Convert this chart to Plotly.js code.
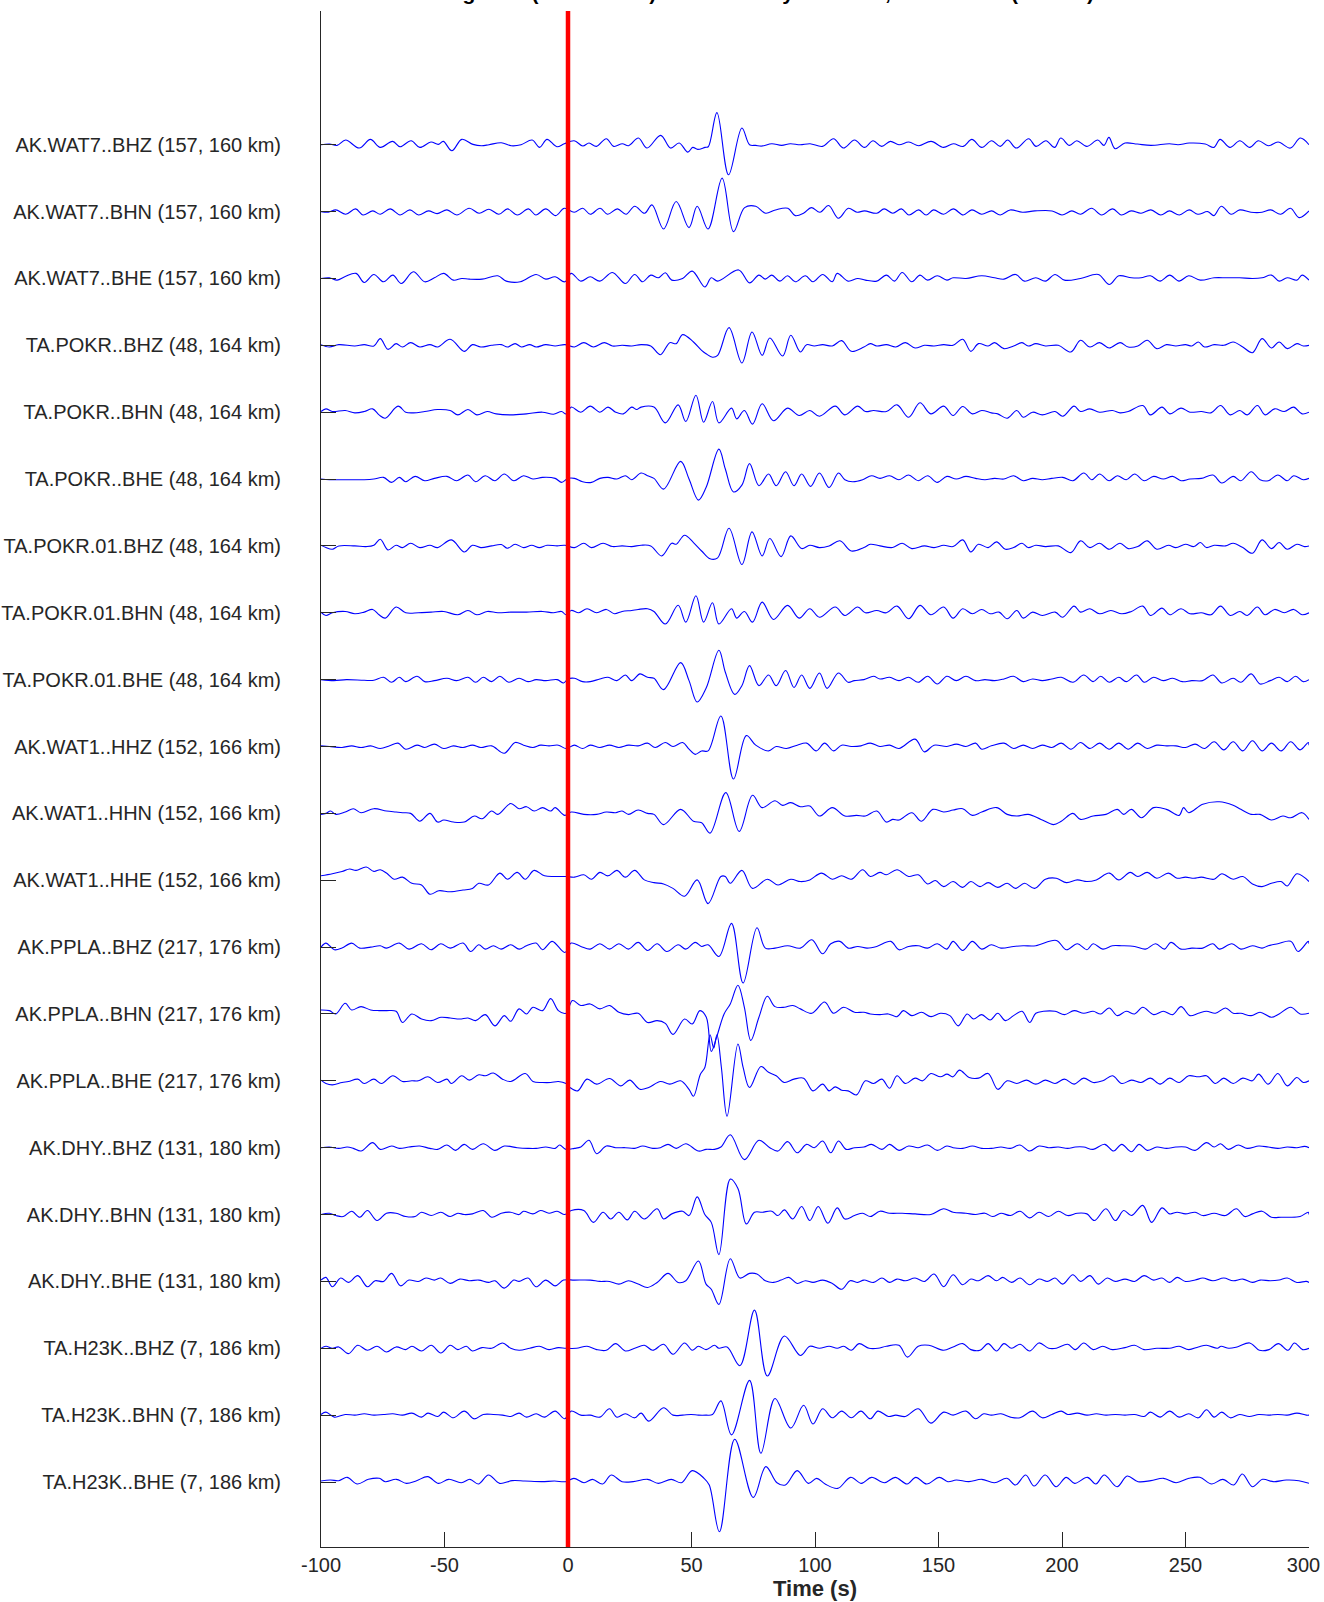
<!DOCTYPE html>
<html><head><meta charset="utf-8">
<script src="https://cdn.plot.ly/plotly-3.0.1.min.js"></script>
<style>html,body{margin:0;padding:0;background:#fff}</style>
</head><body>
<div id="chart" style="width:1324px;height:1602px"></div>
<script>
// ---- station metadata ----
const stationNames = ["AK.WAT7..BHZ","AK.WAT7..BHN","AK.WAT7..BHE","TA.POKR..BHZ","TA.POKR..BHN","TA.POKR..BHE","TA.POKR.01.BHZ","TA.POKR.01.BHN","TA.POKR.01.BHE","AK.WAT1..HHZ","AK.WAT1..HHN","AK.WAT1..HHE","AK.PPLA..BHZ","AK.PPLA..BHN","AK.PPLA..BHE","AK.DHY..BHZ","AK.DHY..BHN","AK.DHY..BHE","TA.H23K..BHZ","TA.H23K..BHN","TA.H23K..BHE"];
const azimuthDeg = [157,157,157,48,48,48,48,48,48,152,152,152,217,217,217,131,131,131,7,7,7];
const distanceKm = [160,160,160,164,164,164,164,164,164,166,166,166,176,176,176,180,180,180,186,186,186];
const originTime = 0;
const xTickVals = [-100,-50,0,50,100,150,200,250,300];
const xTickText = ["-100","-50","0","50","100","150","200","250","300\u00a0\u00a0"];
const titleText = "Seismograms (normalized) are sorted by distance, local event (Mw 4.9)";

// ---- waveforms: pairs of [time (s), amplitude] ----
const w01 = [-100,0,-96.5,0.1,-93.5,-0.1,-90,0.7,-84.5,-0.5,-80,0.8,-76,-0.4,-71,0.5,-68,-0.3,-63.5,0.6,-60,-0.4,-55.5,0.4,-52.5,0.05,-50.5,0.5,-47,-0.9,-43,0.8,-38.5,0.05,-35,-0.15,-32,0,-27,0.3,-23,-0.15,-19,0,-14.5,0.7,-11.5,-0.4,-8.5,0.8,-4.5,-0.3,-1.5,0.15,2.5,0.6,6,-0.2,8.5,0.25,11.5,-0.25,15.5,0.9,18.5,-0.25,22,0.15,24.5,-0.15,28.5,1.0,32,-0.5,37.5,1.4,41.5,-0.5,45,0.25,48.5,-1.1,50.5,-0.4,52.5,-0.7,55.5,-0.4,56.8,-0.3,60.3,4.8,65,-4.5,70.4,2.5,73.5,0,76,-0.1,78.5,-0.2,82.5,0.15,86.5,-0.1,90,0.15,94,0,98,0.15,103,-0.25,107.5,0.9,111.5,-0.5,116,0.7,120,-0.4,123.5,0.6,127,-0.25,130.5,0.5,134,0,138,0.4,142,-0.15,147,0.5,152,-0.4,156,0.15,160,-0.25,163.5,0.8,167.5,-0.4,171.5,0.6,175,-0.25,178,0.7,181.5,-0.5,186.5,0.9,189.5,-0.25,193.5,0.6,197,-0.4,199.5,1.0,203,-0.1,206,0.6,210,-0.25,214.5,0.7,217,-0.1,219,1.1,221.5,-0.6,225.5,0.25,230.5,0.1,236,-0.1,243.5,0.15,247,0,251.5,0.25,258,0.1,261.5,-0.4,264,0.8,268,-0.4,272,0.6,276,-0.4,279.5,0.6,283.5,-0.15,287.5,0.4,292.5,-0.5,296.5,1.0,300,0];
const w02 = [-100,0,-97,-0.1,-94,0.25,-90,-0.4,-86,0.4,-83,-0.5,-79,0.1,-76,-0.4,-72,0.4,-68,-0.5,-64,0.25,-60.5,-0.5,-56.5,0.1,-53,-0.3,-49,0.25,-45,-0.5,-40,0.5,-36,-0.25,-32,0.35,-28,-0.4,-24.5,0.4,-20.5,-0.5,-16,0.4,-13,-0.5,-9,0.4,-5,-0.6,-1.5,0.5,2.5,-0.1,6,0.5,9,-0.4,13,0.5,16,-0.4,20,0.4,23.5,-0.4,27,0.8,31,-0.25,34,1.0,38.7,-2.6,43.8,1.5,49,-2.4,52.3,0.8,56.7,-2.6,62.4,5.0,67,-3.0,71.5,0.6,76,0.8,80,-0.25,84,0.25,89,0.5,92,-0.6,95.5,-0.2,98.5,0.6,102,-0.1,105.5,0.9,109.5,-1.0,113.5,0.5,117,-0.1,120,0.1,125,-0.25,128,0.4,131.5,-0.25,135,0.4,138,-0.5,142,0.25,145,-0.5,148,0.25,152,-0.4,156,0.4,160,-0.5,163.5,0.25,167.5,-0.4,171.5,0.1,175,-0.5,179,0.25,184,-0.1,189,0.1,196,0.1,200,-0.5,204,0.1,207.5,-0.4,212,0.5,216,-0.5,220.5,0.4,224,-0.5,228,0.1,232,-0.25,236,0.25,240,-0.5,243.5,0.1,247.5,-0.5,251.5,0.25,255,-0.4,259,0,261.5,-0.6,264.5,0.8,268.5,-0.4,272,0.25,276.5,-0.1,281,-0.1,284.5,0.25,288.5,-0.4,292.5,0.5,296,-0.9,300,0.1];
const w03 = [-100,0,-96.6,0.1,-93.5,-0.25,-90.2,0.3,-85.8,0.76,-82.5,-0.6,-78.6,0.6,-74.7,-0.5,-70.9,0.5,-67.5,-0.76,-62.6,1.0,-58,-0.5,-54.1,0.1,-50.3,0.76,-46.4,-0.25,-43,0,-40,-0.1,-34.8,-0.1,-28.4,0.4,-25,-0.4,-19.3,-0.5,-12.9,0.6,-9,-0.1,-5.2,0.25,-1.3,-0.5,1.3,0.76,5.2,-0.4,9,0.25,12.9,-0.4,18,0.9,23.2,-0.76,27,0.6,30.2,-0.5,33.5,0.5,36.6,0.1,39.4,0.86,42,-0.25,46.4,0,50.3,1.1,55.4,-1.27,58,0.1,60.6,-0.4,69.1,1.27,73.5,-0.66,77.3,0.5,79.9,-0.1,82.5,0.5,85.8,-0.4,88.9,0.4,92,-0.5,96.1,0.4,99.2,-0.5,103.1,0.6,107,-0.5,109,0.76,113.4,-0.4,117.3,0,120.4,-0.25,125,-0.4,128.9,0.5,132.2,-0.4,135.3,0.9,139.2,-0.5,142.5,0.5,145.6,-0.25,149.5,0.4,153.4,-0.25,155.9,0.1,161.1,0,167.5,0.4,172.7,0.1,176.5,-0.1,181.2,0.6,184.8,-0.4,189.4,0.1,193.3,-0.4,197.2,0.6,201,-0.25,207.5,0,214.7,0.6,219.1,-0.9,223,0.4,228.1,0.1,232,0.1,235.8,0.4,239.7,-0.4,243.6,0.5,247.4,-0.4,251.3,0.4,256,-0.25,261.6,0.1,266.8,0.1,271.9,0.1,277.1,0,281,0.1,284.8,0.5,287.9,-0.4,291.2,0.1,295.1,-0.25,297.2,0.5,300,-0.25];
const w04 = [-100,0.1,-96.6,-0.25,-92.8,0.1,-86.3,-0.1,-82.5,0.1,-78.6,-0.1,-76,1.0,-72.9,-0.6,-69.6,0.25,-67,-0.25,-63.7,0.4,-60,-0.25,-55.9,0.1,-52.8,-0.25,-47.7,0.9,-42,-0.9,-38.7,0.1,-35.3,-0.25,-30.9,0,-27,0.1,-24.5,-0.25,-21.4,0.25,-18.8,-0.25,-15.5,0.1,-12.9,-0.25,-9,0.1,-5.2,-0.1,-1.3,0.1,2.6,-0.25,6.4,0.4,10.3,-0.25,14.7,0.4,18,-0.1,21.9,0,25.8,-0.1,29.6,0.1,33.5,-0.1,37.4,-1.4,41.2,0.4,43.8,0.25,46.4,1.6,50.8,0.5,54.1,-0.76,55.9,-1.27,58.5,-1.78,60.6,-1.5,65.2,2.64,70.4,-2.64,74.5,2.0,78.6,-1.5,81.7,1.1,86.9,-1.6,90.2,1.5,94.1,-1.0,96.6,0.1,99.7,-0.1,103.1,0.1,107,-0.1,110.8,0.7,114.7,-0.9,119.8,-0.25,122.4,0.25,125,-0.1,128.9,0.1,132.7,-0.25,136.6,0.4,140.5,-0.4,144.3,0,148.2,-0.1,152.1,0.1,155.9,0,159.8,0.9,163.1,-0.9,166.2,0.25,170.1,-0.1,172.7,0.4,176.5,-0.5,180.4,-0.1,183.8,0.4,186.3,-0.1,189.4,0.25,193.3,-0.1,198.5,0,203.6,-1.0,207.5,0.76,211.3,-0.25,215.2,0.4,219.1,-0.4,223.5,0.4,226.8,-0.25,230.7,-0.1,234.5,0.76,238.4,-0.5,242.3,0.1,246.1,-0.1,250,0.1,252.6,-0.1,255.2,0.5,257.7,-0.25,261.6,0.1,265.5,0,269.3,0.5,273.2,-0.25,277.1,-1.1,281,1.0,284.8,-0.4,287.9,0.5,291.2,-0.5,295.1,0.25,297.7,-0.1,300,0];
const w05 = [-100,0.1,-98,0.5,-95.4,0.1,-90.2,0.25,-86.3,-0.1,-82.5,0.1,-79.1,0.5,-76.5,-0.4,-74,-0.9,-68.8,0.9,-65.7,0,-62.6,-0.1,-58,0.1,-52.8,0.4,-47.7,0.25,-44.6,-0.4,-40.5,0.4,-36.9,-0.4,-32.7,0.1,-29.1,-0.25,-23.2,-0.4,-16.8,-0.25,-10.3,0,-5.9,-0.3,-2.6,0.1,-0.8,-0.25,1.3,0.76,5.2,0,9,0.9,12.9,0,16.2,0.76,19.3,0,22.4,-0.25,25.8,0.76,27.8,0.4,29.6,0.76,34.8,0.76,39.4,-1.6,44.6,1.1,47.7,-1.4,51.8,2.54,54.9,-1.5,58.5,1.6,61.1,-1.6,66.2,0.6,68.3,-1.0,71.4,0.25,74.7,-1.78,78.6,1.27,83.2,-1.27,88.9,0.6,93.6,-0.5,97.9,0.25,101.8,-0.6,108.2,0.9,112.1,-0.4,117.3,0.9,120.4,0.1,123.7,0.25,128.9,0.1,133.2,1.1,137.9,-0.76,142.5,1.4,146.9,-0.25,152.1,0.9,155.9,-0.5,159.8,0.86,163.7,-0.25,167.5,0.25,171.4,-0.1,174,-0.25,177.8,-0.9,181.7,0.25,184.3,-0.76,188.1,0,192,-0.4,197.2,0.1,200.3,-0.6,204.9,0.9,207.5,0.1,211.3,0.5,215.2,0,220.4,0.25,223.5,-0.1,226.8,0.1,232.7,1.0,235.8,-0.4,240.5,0.76,243.6,-0.25,248.2,0.6,251.8,0,256.4,0.1,260.3,-0.1,264.2,1.0,268.1,-0.4,272,0.25,275,-0.4,279.1,1.0,282.2,-0.4,286.1,0.5,290,0.1,293.8,0.76,297.2,-0.25,300,0];
const w06 = [-100,0,-96.6,-0.1,-91.5,-0.1,-86.3,-0.1,-82.5,-0.1,-78.6,0,-74.7,0.25,-71.4,-0.5,-68.3,0.25,-65.7,-0.4,-61.9,0.4,-58,-0.25,-54.1,0.1,-49,0.4,-45.1,-0.25,-40.5,0.6,-37.4,-0.4,-33.5,0.5,-29.6,-0.25,-25.8,0.76,-21.9,-0.25,-18,0.5,-14.2,0,-10.3,0.25,-5.2,0.1,-2.6,-0.5,0,0.1,2.6,0.1,5.9,-0.4,9.5,-0.5,12.9,0.1,16.2,0.25,19.8,0,23.2,0.5,25.8,-0.1,29.6,0.9,32.2,0.5,34.8,0.1,38.7,-1.5,45.6,2.64,49,0,52.8,-3.15,55.9,-1.27,61.1,4.47,63.7,1.5,67,-1.93,70.4,-0.9,73.5,2.3,77.3,-1.0,81.2,0.76,84.3,-1.0,88.1,1.1,91.5,-1.0,94.6,0.76,98.2,-1.1,101.8,0.9,105.7,-1.27,109.5,0.9,112.1,-0.1,115.2,-0.4,119.3,-0.1,122.9,0.5,126.3,0.1,130.2,0.5,134,-0.1,137.9,0.6,141.8,-0.25,145.6,0.5,149.5,-0.5,153.4,0.4,157.2,0,161.1,0.4,165,0.1,168.8,-0.1,172.7,0.1,176.5,0,180.4,0.5,184.3,-0.25,188.1,0.1,192,-0.1,195.9,0.1,200.3,0.25,204.4,-0.25,208.8,0.9,212.1,-0.1,215.2,0.76,219.1,-0.25,222.4,0.5,226,-0.1,229.4,0.76,233.3,-0.25,237.1,0.4,241,0,244.8,0.4,248.2,-0.25,251.8,0,256.4,0.1,261.1,0.6,264.7,-0.6,269.3,0.4,272.4,-0.25,276.6,1.1,280.2,-0.1,283.5,-0.25,287.4,0.6,291.2,-0.25,293.8,0.5,297.7,-0.1,300,0.1];
const w07 = [-100,0.1,-98,-0.25,-95.4,-0.5,-92.8,0,-86.3,0,-81.7,-0.1,-78.6,0.1,-76,1.0,-72.9,-0.6,-69.6,0.1,-67,-0.25,-63.7,0.4,-60,-0.25,-55.9,0.1,-52.8,-0.25,-47.2,0.9,-42,-0.9,-38.7,0.1,-35.3,-0.25,-30.9,0,-27,0.2,-24.5,-0.35,-21.4,0.25,-18,-0.25,-14.7,0.1,-11.6,-0.25,-8.5,0.1,-4.4,0,-1.3,0.1,2.6,-0.25,6.4,0.4,9.5,-0.25,14.2,0.4,18,-0.1,21.9,0,25.8,-0.1,29.6,0.1,33.5,0,37.9,-1.5,42,0.4,43.8,0.25,47.2,1.6,50.8,0.5,54.1,-0.76,57.5,-1.93,60.6,-1.78,65.2,2.64,70.4,-2.79,74.5,2.1,78.6,-1.5,81.7,1.1,86.3,-1.6,90.2,1.5,94.6,-0.4,97.9,0.1,101.8,-0.25,105.7,0,110.1,0.76,114.7,-0.76,119.8,-0.25,122.4,0.25,126.3,0,131.4,-0.25,135.3,0.4,139.2,-0.4,144.3,0,148.2,-0.25,152.1,0.1,155.9,-0.1,159.8,0.9,163.1,-0.9,166.2,0.25,170.1,-0.25,173.5,0.6,177.1,-0.5,180.4,-0.25,183.8,0.4,186.3,-0.25,189.4,0.1,193.3,-0.1,198.5,0,203.6,-1.0,207.5,0.76,211.3,-0.25,215.2,0.4,219.1,-0.5,223.5,0.4,226.8,-0.4,230.7,-0.1,234.5,0.76,238.4,-0.5,243.1,0.1,246.1,-0.25,250,0.25,253.4,-0.1,256,0.5,258.5,-0.25,261.6,0.1,266.2,0,269.3,0.4,273.2,-0.25,277.1,-1.1,281,0.9,284.8,-0.4,287.9,0.5,291.2,-0.5,295.1,0.25,298.2,-0.1,300,0];
const w08 = [-100,0.1,-98,-0.4,-95.4,0,-90.2,0.2,-86.3,-0.15,-82.5,0.1,-79.1,0.5,-76.5,-0.3,-74,-0.8,-69.6,0.86,-65.7,0,-60.6,0,-55.4,0.1,-50.3,0.2,-44.6,-0.3,-40.5,0.35,-36.9,-0.3,-32.7,0.2,-28.4,0,-23.2,0.1,-16.8,0.1,-10.3,0.2,-5.9,0,-2.6,0.2,-0.8,-0.3,1.3,0.35,4.4,0,7.7,0.6,11.6,0,15.5,0.5,18.8,-0.15,21.9,0.2,25.8,0.35,28.4,0.5,32.2,0.6,34.8,0.2,39.4,-1.68,44.6,1.12,47.7,-1.4,51.8,2.54,54.9,-1.4,58.5,1.5,61.1,-1.68,66.2,0.6,68.3,-0.8,71.4,0.2,74.7,-1.4,78.6,1.6,83.2,-1.0,88.9,1.1,93.6,-0.8,97.9,0.6,101.8,-0.66,108.2,0.86,112.1,-0.4,117.3,0.86,120.4,0,125,0.35,128.9,0,133.2,1.0,137.9,-0.9,142.5,1.1,146.9,-0.3,152.1,0.86,155.9,-0.8,159.8,0.6,163.7,-0.15,167.5,0.5,170.9,-0.15,174.5,0.1,177.8,-0.9,181.7,0.35,184.3,-0.8,188.1,0.1,192,-0.4,197.2,0.1,200.3,-0.66,204.9,1.0,207.5,0.1,211.3,0.6,215.2,-0.15,219.8,0.35,224.2,-0.15,228.1,0.2,232.7,1.0,235.8,-0.4,240.5,0.7,243.6,-0.3,248.2,0.6,251.8,-0.15,256.4,0,260.3,-0.3,264.2,1.0,268.1,-0.4,272,0.2,275,-0.4,279.1,0.86,282.2,-0.3,286.1,0.5,290,0,293.8,0.5,297.2,-0.3,300,0];
const w09 = [-100,0,-94.8,-0.15,-89.7,0,-82.5,-0.1,-78.6,-0.1,-74.7,0.35,-71.4,-0.4,-68.3,0.35,-65.7,-0.3,-61.1,0.5,-58,-0.3,-54.1,-0.15,-49,0.2,-45.1,-0.15,-40.5,0.35,-37.4,-0.4,-34.3,0.35,-30.9,-0.3,-27.6,0.5,-24,-0.4,-19.8,0.2,-16.2,-0.3,-12.9,0,-9,-0.15,-4.4,0,-1.8,-0.5,0,0.1,2.6,0.2,5.9,-0.3,9,-0.3,12.9,0.1,16.2,0.35,19.8,-0.15,23.2,0.7,25.8,-0.15,29.1,0.86,32.2,0.35,34.8,0.2,38.7,-1.5,45.6,2.54,49,-0.15,52.3,-3.35,55.9,-1.3,61.1,4.4,63.7,1.1,67.5,-2.2,70.4,-0.9,73.5,2.1,77.3,-0.9,81.2,0.7,84.3,-0.9,88.1,1.37,91.5,-1.17,94.6,0.7,97.9,-1.3,101.8,1.0,104.9,-1.3,109.5,1.0,113.4,-0.4,115.9,-0.15,119.8,0,123.7,0.5,126.3,0.1,130.2,0.35,134,-0.15,137.9,0.35,141.8,-0.4,145.6,0.5,149.5,-0.66,153.4,0.5,157.2,-0.15,161.1,0.5,165,-0.15,168.8,0,172.7,-0.15,176.5,0.1,180.4,0.5,184.3,-0.3,188.1,0.1,192,-0.15,195.9,0.1,199.7,0.35,204.4,-0.4,208.8,0.7,212.6,-0.3,215.7,0.5,219.1,-0.4,223,0.35,226,-0.3,230.2,0.7,233.3,-0.4,237.1,0.35,241,-0.15,244.8,0.2,248.7,-0.3,252.6,-0.15,256.9,-0.15,261.1,0.7,264.7,-0.5,269.3,0.2,272.4,-0.4,276.6,0.86,280.2,-0.66,284.3,-0.15,287.9,0.35,291.2,-0.3,294.6,0.5,297.7,-0.3,300,0];
const w10 = [-100,0.1,-96.6,0,-91.5,-0.15,-87.6,0.1,-83.8,-0.15,-79.9,0.1,-76,-0.3,-72.2,0.1,-68.8,0.5,-65.7,-0.4,-61.1,0.2,-58,-0.15,-54.1,0.35,-50.3,-0.3,-46.4,0.1,-42.5,-0.15,-38.7,0.2,-35.3,-0.15,-30.9,0.1,-25.8,-1.0,-21.4,0.6,-18,0.2,-14.2,-0.15,-11.1,0.2,-7.7,0.1,-3.9,0.2,-0.8,-0.3,2.6,0.2,5.9,-0.3,9,0.2,12.9,-0.15,16.8,0.2,20.6,-0.15,24.5,0.2,28.4,0.1,32.2,0.5,35.3,-0.15,39.4,0.6,42.5,0,46.4,0.6,49,-0.4,51.5,-1.17,54.1,-0.66,56.7,-0.66,61.9,4.57,67,-4.87,72.2,1.63,76,0.2,81.2,-0.66,84.3,0,88.4,-0.3,92.8,0.2,96.6,0.5,100.5,-0.66,103.9,0.5,107.5,-0.66,110.8,0.2,114.7,0,118.6,0.1,122.4,0.5,126.3,0,130.2,0.2,134,-0.3,140.5,1.1,144.3,-0.8,148.2,0.2,153.4,0,157.2,0.35,161.1,0,165,0.5,167.5,-0.4,171.4,0.1,176.5,0.5,180.4,-0.3,184.3,0.2,188.1,-0.3,192,0.2,195.9,-0.15,199.7,0.5,203.6,-0.4,207.5,0.6,211.3,-0.3,215.2,0.5,219.1,-0.4,223,0.5,226.8,-0.4,230.7,0.5,234.5,-0.3,238.4,0.2,242.3,0.1,246.1,0.1,250,-0.15,253.9,0.35,257.7,-0.3,261.6,0.7,265.5,-0.5,269.3,0.7,273.2,-0.66,277.1,0.86,281,-0.66,284.8,0.5,288.7,-0.66,292.6,0.7,296.4,-0.5,299.7,0.6,300,0.2];
const w11 = [-100,-0.15,-98,0,-96.1,0.35,-94,-0.15,-90.2,0.2,-86.9,0.7,-83.8,0.1,-78.6,0.7,-73.5,0.35,-69.6,0.2,-67,0.1,-63.7,0,-60,-1.17,-55.9,0,-52.8,-1.3,-50.3,-1.0,-46.4,-1.3,-42,-1.3,-37.9,-0.4,-34.8,-0.8,-30.9,0.35,-28.4,-0.15,-23.2,1.47,-19.8,0.7,-16.8,1.0,-13.7,0.35,-10.3,0.86,-7,0.35,-5.2,0.86,-1.3,-0.3,1.3,0.2,6.4,-0.15,11.6,-0.15,15.5,0.2,19.3,0.1,21.9,0.35,24.5,-0.15,28.4,0.5,32.2,0,34.8,-0.15,38.7,-1.68,45.6,0.6,50.8,-1.17,54.1,-1.4,57.5,-2.95,63.9,3.1,69.3,-2.7,74.7,2.7,78.6,0.86,83.8,1.88,86.9,1.2,90.2,1.6,94.1,1.0,97.9,1.1,101.8,-0.4,107,0.86,112.1,-0.4,116.8,-0.3,120.4,-0.4,125,0.35,128.9,-1.3,131.4,-0.9,134,-1.0,139.2,0.1,143.1,-1.17,147.7,0.6,152.1,0.2,155.9,0.5,159.8,0.7,163.7,-0.3,167.5,0.2,173.5,0.86,177.8,-0.15,181.7,-0.4,186.3,-0.15,191.5,-0.9,196.6,-1.68,199.7,-1.17,204.4,0,207.5,-0.9,212.6,-0.4,217.8,-0.15,222.4,0.6,225,-0.15,228.1,0.6,232.2,-0.66,237.1,0.86,242.3,0.6,247.4,-0.3,249.2,0.86,251.3,0.1,257,1.37,263.7,1.73,269.3,1.2,272.4,0.6,276.6,-0.15,280.2,-0.15,284.8,-1.0,289.4,-0.4,292.6,-0.66,297.2,0.1,300,-0.9];
const w12 = [-100,0.66,-95.4,0.96,-91.5,1.3,-88.4,1.68,-85.8,1.47,-81.7,1.98,-78.6,1.32,-76,1.57,-73.5,1.07,-70.4,0.15,-67,0.46,-63.2,-0.46,-59.3,-0.71,-55.9,-2.1,-52.3,-1.57,-47.7,-1.73,-42.5,-1.47,-38.7,-1.22,-36.1,-0.46,-32.2,-0.71,-27.6,1.07,-24.5,0.15,-20.6,1.17,-17.3,0.15,-13.7,1.47,-9.5,0.66,-5.2,0.56,-0.8,0.56,2.6,0.46,6.4,0.81,9.5,0.15,12.9,1.17,16.2,0.66,19.8,1.47,23.2,0.46,27,1.47,30.9,0.05,34.8,-0.36,38.7,-0.56,42.5,-1.22,47.2,-2.39,52.3,0.05,56.7,-3.5,61.9,0.56,63.7,0.56,65.7,-0.46,70.4,1.47,74.7,-1.22,80.7,0.15,85,-0.71,90.2,0.15,94.1,-0.2,97.9,0.05,102.6,1.07,107,0.15,110.8,0.66,114.7,0.15,119.3,1.57,122.4,0.56,126.3,1.17,128.9,0.81,133.2,1.57,137.9,0.56,141.8,0.81,145.6,-0.56,148.7,-0.05,152.1,-0.96,155.9,-0.2,159.8,-1.07,163.1,-0.2,166.8,-0.96,170.1,-0.36,174,-1.07,177.8,-0.46,181.2,-1.22,184.8,-0.46,188.9,-1.22,193.3,0.15,197.7,0.3,201.8,-0.36,206.2,0.05,210.1,-0.2,213.9,0.05,219.1,1.07,223,0.05,227.6,1.17,230.7,0.56,234.5,1.17,238.4,0.3,243.1,1.07,246.6,0.3,250,0.46,253.4,0.3,256.4,0.46,261.6,0.15,264.7,0.96,269.3,0.15,273.2,0.56,277.1,-0.56,281,-0.96,284.8,-0.46,288.7,-0.2,291.2,-0.86,295.1,0.96,300,-0.2];
const w13 = [-100,0,-98,0.6,-94.6,-0.4,-91.5,-0.15,-87.6,0.6,-84.3,-0.15,-79.9,0,-76,0.2,-73.5,-0.15,-68.3,0.6,-64.4,-0.3,-59.3,0.5,-55.4,-0.4,-51.5,0.5,-47.7,-0.15,-42.5,0.6,-39.4,-0.66,-36.1,0.35,-33.5,-0.3,-30.2,0.2,-27.1,-0.3,-23.2,0.35,-19.8,-0.3,-16.8,0.2,-12.9,0.6,-10.3,-0.4,-6.4,0.86,-1.3,-0.8,1.3,0.6,5.2,0.1,9,-0.3,12.9,0.5,16.8,-0.3,20.6,0.5,24.5,-0.3,28.4,0.7,32.2,-0.5,36.1,0.5,40,-0.66,44.6,0.35,47.7,-0.3,51.5,0.7,54.1,0.1,56.7,0.35,61.1,-1.4,66.2,3.55,70.9,-5.38,76.5,2.9,79.9,-0.15,83.8,-0.15,88.9,0.2,94.1,-0.15,98.7,1.1,103.1,-1.0,106.4,0.5,110.1,0.86,113.4,-0.15,117.3,0.1,121.1,-0.15,125,0.1,130.7,0.86,134,-0.4,137.9,0.1,141.8,0.2,145.6,-0.15,149.5,0.5,153.4,-0.3,155.9,0.86,159.8,-0.5,163.7,0.86,167.5,-0.3,171.4,0.35,175.3,-0.15,180.4,0.1,184.3,0.2,189.4,0.2,197.7,1.0,201.8,-0.4,206.2,0.5,210.1,-0.4,212.6,0.5,216.5,-0.3,220.4,0.2,224.2,0.2,229.4,0.1,233.8,-0.3,237.9,0.5,241.5,-0.3,244.1,0.7,248.2,-0.3,252.6,-0.15,257,-0.15,261.1,0.5,263.7,-0.3,268.8,0.5,272.4,-0.3,277.1,0.2,281,-0.15,283.5,0.2,287.4,0.5,292.6,0.86,295.6,-0.66,299.7,0.86,300,0.5];
const w14 = [-100,0.6,-96.6,0.5,-94,0,-90.2,1.6,-87.6,0.6,-83.8,1.1,-79.9,0.6,-76.5,0.5,-73.5,0.5,-69.6,0.4,-67,-1.27,-63.2,0,-59.3,-0.76,-55.4,-1.0,-51.5,-0.5,-47.7,-0.6,-43.8,-0.76,-40.5,-0.6,-37.4,-1.0,-33.5,-0.1,-29.6,-1.78,-25.8,-0.25,-23.2,-1.1,-19.8,0.76,-16.8,0,-14.2,1.0,-10.3,0.5,-7,2.3,-3.9,0.5,-0.8,0.1,1.8,2.0,5.2,1.27,9,1.5,12.9,0.76,16.8,1.27,20.6,0.25,24.5,-0.1,28.4,0.1,32.2,-1.27,36.1,-1.0,39.4,-1.4,42.5,-3.05,47.2,-0.76,50.3,-1.5,53.4,0.5,56,-0.5,58,-5.6,60.1,-3.55,63.2,0,65.7,1.5,68.8,4.3,71.4,1.0,74,-3.96,77.3,-0.5,80.7,2.64,83.8,1.1,87.6,1.0,91,1.27,94.1,0.76,98.7,0.1,103.9,1.78,107.5,0.1,111.6,1.0,116,0.25,119.8,0.25,122.4,0,126.3,-0.1,129.7,0,133.2,-0.4,135.8,0.5,139.2,-0.25,143.1,0.25,146.9,-0.4,150.8,0.1,154.6,-0.25,158,-1.78,161.6,0,164.2,-0.76,167.5,-0.1,170.9,-0.9,174,0.1,177.1,-1.0,180.4,-0.25,183.8,0.4,186.9,-1.27,189.4,0.1,192.5,0.4,197.2,0.4,201,-0.1,204.9,0.5,208.8,0.1,212.6,0.4,215.7,0,219.1,0.9,222.4,-0.25,226,0.4,229.4,0,232.7,1.0,237.1,-0.1,241,0.4,244.8,-0.1,248.2,1.1,251.8,-0.25,255.2,0.1,258.5,0.4,262.1,0.1,266.2,0.9,269.3,0.1,272.4,0.1,276.6,-0.25,280.2,0.25,284.8,-0.5,287.9,0,292.6,1.0,296.4,0,300,0.1];
const w15 = [-100,0.1,-98,-0.4,-95.4,-0.6,-91.5,-0.25,-88.9,-0.1,-85.1,0.25,-82.5,-0.4,-78.6,0.25,-75.5,-0.4,-70.9,0.76,-67,-0.1,-63.2,0,-60.6,0,-56.7,0.6,-52.8,-0.25,-49,0.25,-47.2,-0.4,-43,0.76,-40,0.1,-36.1,0.9,-33.5,0.76,-30.2,1.17,-26.5,0.25,-23.2,-0.1,-17.3,1.1,-14.2,-0.1,-10.3,-0.25,-7,-0.25,-3.9,-0.1,-0.8,-0.4,0.8,-1.0,3.9,-1.5,7.7,0.25,11.6,-0.5,16.8,0.35,21.4,-0.76,25,0.1,29.1,-1.27,32.7,-1.0,37.4,-0.1,41.2,-0.5,45.6,0,49,-1.27,50.8,-2.3,53.6,1.0,55.4,2.0,57.5,6.9,59,4.9,60.3,6.9,62.1,2.0,64.4,-5.3,68.8,5.5,70.9,2.0,73.5,-1.0,78.1,2.14,81.2,1.27,84.3,0.76,87.6,-0.25,91.5,0.25,95.4,0.4,99.2,-1.5,103.1,-0.5,105.7,-1.5,108.2,-0.9,110.8,-1.4,113.4,-1.5,116.8,-2.1,120.4,0,123.7,-0.4,127.1,0.25,130.2,-1.1,133.2,0.76,136.6,-0.4,140.5,0.4,143.6,0,146.9,1.1,150.8,0.6,153.4,1.0,155.9,0.6,158.5,1.6,162.4,0.5,166.2,0.4,170.1,1.1,174,-1.27,177.8,0,181.7,-0.4,185.6,0.1,189.4,-0.5,193.3,0.1,197.2,-0.4,201,0.25,204.9,-0.5,208.8,0.4,212.6,-0.25,216.5,0,220.4,0.76,224.2,-0.4,228.1,0.1,232,-0.25,235.8,0.4,239.7,-0.5,243.6,0.4,247.4,-0.25,251.3,0.76,255.2,0.6,258.5,0.76,262.1,-0.4,265.5,0.4,269.3,-0.4,273.2,0.4,277.1,0,279.6,1.0,283.5,-0.5,287.4,1.1,291.2,-0.76,295.1,0.5,297.7,-0.25,300,0];
const w16 = [-100,0,-96.6,0.1,-92.8,-0.1,-89.4,0.1,-86.9,-0.1,-83.8,-0.5,-79.1,0.76,-76,-0.25,-71.4,0.25,-68.3,-0.1,-64.4,0.1,-60,0.25,-55.9,-0.1,-52.8,-0.25,-49,0.4,-45.6,-0.4,-42,0.5,-38.7,-0.25,-34.3,0.6,-29.6,-0.4,-25.8,0.25,-20.6,0,-16.2,-0.1,-12.9,-0.1,-9,0.1,-5.2,-0.1,-3.4,0.4,-0.8,-0.25,2.6,-0.1,5.2,0.1,8.5,1.1,11.6,-0.9,15.5,0.25,19.3,0,23.2,0,27,-0.1,30.2,0.25,34.3,-0.1,37.4,0,40.5,0.5,43.8,-0.1,47.7,0.6,52.8,-0.5,55.9,-0.25,59.3,-0.25,61.9,0.1,65.7,1.93,71.4,-1.78,77.3,1.1,81.7,0,85,-0.5,88.9,0.9,92.8,-0.76,96.6,0.5,99.7,0,103.1,1.0,106.4,-0.76,109.5,1.0,112.6,-0.25,116,0,119.8,0.1,122.9,0.5,127.1,-0.25,130.2,0.5,134,-0.4,137.9,0.25,141.8,0,145.6,0.4,149.5,-0.4,153.4,0.25,155.9,0,159.8,-0.1,163.7,0.25,167.5,-0.1,171.4,-0.1,175.3,0.1,179.1,-0.1,183,0.4,186.9,-0.5,190.7,0.25,194.6,0,198.5,0.1,202.3,-0.1,205.4,0.1,208.8,0.1,212.6,-0.25,217.3,0.5,220.9,-0.5,224.2,0.5,228.1,-0.6,231.2,0.5,234.5,-0.4,238.4,0.1,242.3,-0.1,246.1,0.1,250,0.1,253.9,-0.4,258.5,0.76,261.6,0.1,264.2,0.6,267.3,-0.25,271.4,0.4,275,-0.1,279.7,0.25,283.5,0.1,287.4,-0.1,291.2,0.1,295.1,0,298.2,0.2,300,0];
const w17 = [-100,0,-96.6,0.2,-94,-0.15,-91,-0.3,-87.6,0.5,-84.3,-0.4,-81.2,0.6,-77.3,-0.9,-73.5,0.2,-69.6,0.2,-65.7,-0.3,-61.9,-0.3,-59.3,0.35,-55.4,-0.15,-51.5,0.35,-47.7,-0.3,-44.6,0.2,-42,0,-38.7,0.1,-34.3,0.6,-30.9,-0.4,-27,0.2,-23.2,0.35,-19.8,0,-18,0.5,-14.2,0.1,-11.1,0.6,-7.7,0.2,-4.4,0.5,-1.3,0,1.3,0.6,6.4,0.6,10.3,-1.17,14.2,0.35,17.3,-0.66,20.6,0.35,24,-0.8,27,0.5,30.9,-0.66,36.1,0.86,38.7,-0.66,42,0.1,46.4,0.5,49,-0.15,52.3,2.64,55.4,0,58,-1.17,61.1,-6.0,65.7,5.3,68.8,3.9,72.2,-1.4,75.5,0.35,78.6,0.35,82.5,0.5,85,-0.15,87.6,0.7,91,-0.66,94.6,1.2,97.9,-0.9,101.3,1.2,105.2,-1.3,109,1.0,112.1,-0.66,116,-0.15,119.3,0.2,122.4,-0.3,126.3,0.5,130.2,0.2,135.3,0.2,140.5,0.1,146.9,0,152.1,0.86,155.9,0.35,161.1,0.2,165,0,168.8,0.2,171.9,-0.3,175.3,0.2,179.1,-0.15,183,0.5,186.9,-0.5,190.7,0.35,194.6,-0.3,198.5,0.5,202.3,-0.15,206.2,0.2,210.1,0.1,213.1,-0.9,217.8,0.86,221.6,-0.9,225,0.6,228.1,-0.15,232.7,1.37,236.3,-1.17,240.5,1.0,243.6,0.1,246.6,0.35,250,0.1,253.9,0.35,257,-0.15,261.6,0.2,266.2,-0.15,270.6,0.86,274,-0.3,277.1,0.1,281,0.5,284.8,-0.4,288.7,-0.4,291.2,-0.4,296.4,-0.3,299.7,0.35,300,0];
const w18 = [-100,0.2,-98,0.6,-95.4,-0.8,-92,0.5,-88.9,-0.15,-85.1,0.86,-81.2,-0.8,-78.1,0.1,-74.7,0,-71.4,1.2,-67.8,-0.66,-64.4,0.2,-60.6,0,-57.5,0.5,-54.1,0.2,-51.5,0.5,-47.7,-0.3,-43.8,0.35,-40,0.1,-36.1,0.2,-32.2,-0.15,-29.6,0.1,-25.8,-1.0,-21.9,0.2,-19.8,0,-16.2,0.5,-12.9,-0.8,-9,0.2,-5.2,-0.66,-1.8,0.2,2.6,0.2,9,0.2,12.9,0,16.8,0,20.6,-0.4,24.5,0.1,28.4,-0.4,32.2,-0.9,36.1,-0.15,40.5,1.2,44.6,-0.15,47.7,0.1,52.8,3.05,55.9,-0.4,58,-1.17,61.1,-3.45,65.7,3.4,69.6,0.5,73.5,1.2,76.5,1.1,79.9,0.1,83.2,-0.15,86.3,0.2,89.4,0.6,92.8,-0.3,96.1,0.1,99.2,-0.15,103.1,0.2,107,-0.3,110.8,-1.17,114.2,0.1,117.3,-0.15,119.8,0.2,123.7,-0.15,127.1,0.5,130.2,-0.15,133.2,0.35,136.6,0.1,140.5,0.5,144.3,0,148.2,1.1,152.1,-0.8,155.9,1.0,159.8,-0.5,163.1,0.35,166.2,0.1,170.1,0.86,173.5,0.1,176,0.6,179.6,-0.15,183,0.5,186.9,-0.5,190.7,0.35,194.1,0,197.2,0.5,200.3,-0.4,204.4,1.0,207.5,0,211.3,0.86,214.7,-0.4,218.3,0.5,221.6,0,225.5,0.35,229.4,0,233.2,0.86,237.1,0.2,240.5,0.5,243.6,-0.15,246.6,0.6,250,0,253.9,0.2,257,0.5,261.1,0.1,265.5,0.5,269.3,0.1,273.2,0.35,277.1,-0.15,280.2,0.2,284.3,0.1,287.9,0.2,291.2,0.5,295.1,-0.15,298.9,0,300,-0.15];
const w19 = [-100,0,-98,0.3,-95.4,0,-92.8,0.2,-88.9,-0.8,-85.1,0.45,-81.2,-0.3,-77.3,0.3,-73.5,-0.55,-69.6,0.2,-65.7,-0.2,-63.2,0.3,-59.3,-0.4,-55.4,0.45,-51.5,-0.7,-47.7,0.45,-44.6,-0.2,-41.2,0.3,-38.7,-0.4,-34.8,0.1,-30.9,0,-26.5,0.8,-23.2,0,-19.8,-0.3,-15.5,0,-11.6,0.3,-7.7,-0.2,-3.9,0.1,-0.8,0,3.4,0,7.7,0.3,11.6,-0.2,15.5,-0.3,19.3,0.7,23.2,-0.4,27,0,30.9,0.45,34.3,-0.3,38.7,0.6,42.5,-0.9,47.2,0.8,50.3,-0.3,52.8,0.3,55.9,-0.2,59.3,0.45,61.1,0,64.4,0.2,69.6,-2.6,75.5,5.7,80.7,-4.14,87.6,1.83,94.1,-1.07,97.9,0.3,101.8,0,105.7,0.3,109,0,111.6,0.3,114.7,-0.3,117.8,0.7,121.9,0,125.5,0,128.9,0.3,134,0.45,137.4,-1.32,141.8,0.3,146.1,0.45,152.1,-0.3,155.9,0.2,159.8,0.7,163.1,-0.2,166.8,-0.3,170.1,0.7,173.5,-0.4,176.5,0.7,179.6,0,183,0.6,186.9,-0.4,190.7,0.8,194.6,0,197.7,0,202.3,0.6,205.4,-0.2,208.8,0.8,212.6,-0.2,216.5,0.3,220.4,-0.2,225.5,0.1,229.4,0.45,233.2,-0.2,238.4,0,243.6,0,247.4,0.3,251.3,-0.2,255.2,0.2,258.5,0.45,262.9,0,264.4,0.3,267.5,0,270.9,0.2,276,0.8,279.9,-0.3,283.8,-0.2,287.6,0.7,291.5,-0.3,294.1,0.8,297.4,-0.2,300,0];
const w20 = [-100,0.1,-98,0.45,-94.6,-0.3,-90.2,0.1,-86.3,0,-82.5,0.2,-78.6,0,-74.7,0.1,-70.9,0.2,-67,0,-63.2,0.3,-59.3,-0.3,-56.7,0.3,-52.8,-0.2,-50.3,0.45,-46.4,-0.4,-42,0.6,-37.9,-0.55,-34.3,0.1,-30.2,0.1,-26.5,0,-23.2,-0.2,-19.8,0.3,-16.8,-0.3,-12.9,0.2,-9.5,-0.3,-5.2,0.6,-1.3,-0.55,1.3,0.6,5.2,0,9,0,12.9,-0.3,16.8,0.95,19.8,-0.3,23.2,0.2,27,-0.4,29.6,0.3,32.7,-0.9,38.7,1.1,42.5,0,46.4,0,49.8,0.1,52.8,0,55.9,0,58.5,0.1,61.9,2.13,66.2,-2.95,73.5,5.2,78.1,-5.7,83.8,2.5,90.2,-1.93,95.4,1.47,99.2,-1.32,103.1,0.96,107,-0.4,110.8,0.6,114.7,-0.4,118.6,0.6,122.4,-0.55,125.5,0.6,129.7,-0.2,132.7,0,136.6,-0.2,141.8,0.96,146.9,-1.2,152.1,0.45,155.9,0,161.1,0.6,165,-0.55,168.3,0.2,171.4,0,175.3,0.2,179.1,-0.3,183,-0.4,188.1,0.6,192,-0.4,195.9,0.1,199.7,0.6,202.3,0.1,206.2,0.3,210.1,0,213.9,0.2,217.8,0,221.6,0.1,225.5,0,229.4,0.1,233.2,-0.2,235.8,0.45,239.7,-0.3,243.6,0.6,247.4,-0.3,251.3,0.2,255.2,-0.4,258.5,0.8,261.6,-0.3,264.7,0.45,268.1,-0.4,271.9,0.1,275.8,-0.2,279.7,0.1,283.5,0,287.4,0.1,291.2,0,295.1,0.3,298.9,0,300,0];
const w21 = [-100,0.15,-96.2,0.3,-92.8,0.2,-89.4,0.7,-85.3,-0.3,-80.8,0.4,-76.4,0.55,-74,0.05,-69.5,0.4,-65.4,-0.2,-61.3,0.2,-56.8,0.8,-52.4,-0.2,-48.3,0.4,-43.2,-0.1,-39.7,0.4,-36.3,-0.3,-32.2,1.05,-27.7,-0.2,-22.6,0.2,-17.5,0.15,-10.6,0.05,-5.5,0.15,-1,0.05,2.4,0.55,6.5,-0.1,9.9,0.4,14,-0.3,17.5,1.05,21.9,0.05,26.4,0.05,32.2,0.4,36.6,-0.2,41.8,0.4,45.9,-0.1,50.3,1.7,55.1,0.55,57.2,-0.45,61.3,-7.45,67.5,6.4,75,-2.3,80.1,2.3,84.6,-0.1,88,-0.45,92.8,1.7,97.3,-0.2,100.7,0.55,104.1,-0.3,109.2,-0.95,114.4,0.7,118.8,-0.2,122.9,0.7,128.1,-0.1,132.5,0.7,137.3,-0.3,140.8,0.7,145.2,-0.3,150.3,0.7,153.8,0.05,157.2,0.3,162.3,0.05,167.5,0.4,172.6,-0.1,177.7,0.55,181.2,-0.45,185.3,1.05,188.7,-0.6,193.2,1.05,197.6,-0.7,201.7,0.7,205.1,-0.2,210.3,0.7,213.7,-0.3,217.1,1.05,222.3,-0.7,226.4,0.9,230.8,0.05,236,0.2,241.1,0.55,246.2,-0.1,251.4,0.55,255.8,0.7,260.6,-0.3,265.1,0.4,269.5,-0.45,273,1.2,277.1,-0.7,281.2,0.4,285.6,0.05,290.8,0.3,295.9,0.2,300,-0.2];

const waveforms = [w01,w02,w03,w04,w05,w06,w07,w08,w09,w10,w11,w12,w13,w14,w15,w16,w17,w18,w19,w20,w21];

// ---- build ----
const spacing = 10;
const n = waveforms.length;
const offsets = waveforms.map((w,i) => spacing*(n - i));
const labels = stationNames.map((s,i) => s + " (" + azimuthDeg[i] + ", " + distanceKm[i] + " km)");

const traces = waveforms.map((w,i) => {
  const x = [], y = [];
  for (let k = 0; k < w.length; k += 2) { x.push(w[k]); y.push(offsets[i] + w[k+1]); }
  return {type:'scatter', mode:'lines', x, y, name: labels[i],
    line:{color:'#0000ff', width:1.1, shape:'spline', smoothing:1},
    hoverinfo:'skip', showlegend:false};
});

const axisColor = '#262626';
const fontFam = '"Liberation Sans", Arial, Helvetica, sans-serif';
const layout = {
  width:1324, height:1602,
  margin:{l:321, r:15, t:11, b:55, pad:0},
  paper_bgcolor:'#ffffff', plot_bgcolor:'#ffffff',
  showlegend:false,
  font:{family:fontFam, size:20, color:axisColor},
  title:{text:titleText, font:{family:fontFam, size:21, weight:700, color:'#000000'},
    xref:'paper', x:0.425, xanchor:'center', yref:'container', y:1, yanchor:'bottom'},
  xaxis:{range:[-100,300], tickmode:'array', tickvals:xTickVals, ticktext:xTickText,
    ticks:'inside', ticklen:15, tickwidth:1, tickcolor:axisColor,
    showline:true, linecolor:axisColor, linewidth:1, mirror:false,
    showgrid:false, zeroline:false, automargin:false, ticklabelstandoff:0,
    ticklabeloverflow:'allow',
    tickfont:{family:fontFam, size:20, color:axisColor},
    title:{text:'Time (s)', font:{family:fontFam, size:22, weight:700, color:axisColor}, standoff:3}},
  yaxis:{range:[0.28,230], tickmode:'array', tickvals:offsets, ticktext:labels,
    ticks:'inside', ticklen:15, tickwidth:1, tickcolor:axisColor,
    showline:true, linecolor:axisColor, linewidth:1, mirror:false,
    showgrid:false, zeroline:false, automargin:false, ticklabelstandoff:35,
    tickfont:{family:fontFam, size:20, color:axisColor}},
  shapes:[{type:'line', xref:'x', yref:'paper', x0:originTime, x1:originTime, y0:0, y1:1,
    line:{color:'#ff0000', width:4.5}, layer:'above'}]
};

Plotly.newPlot('chart', traces, layout, {staticPlot:true, displayModeBar:false});
</script>
</body></html>
